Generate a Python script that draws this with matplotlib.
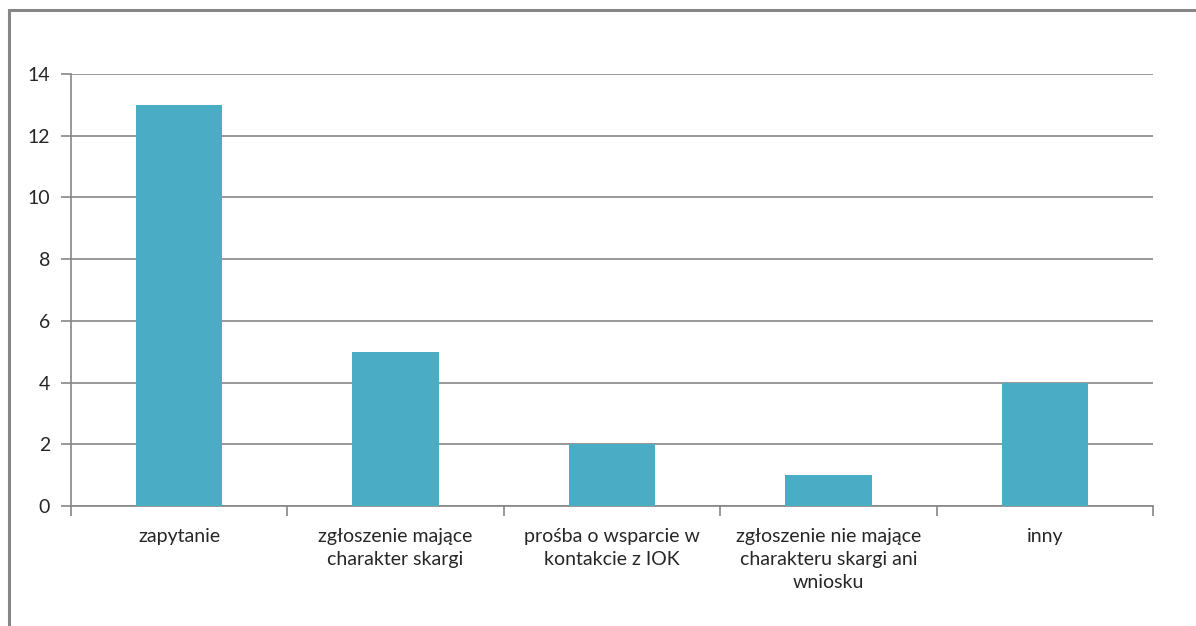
import matplotlib
matplotlib.use('Agg')
import matplotlib.pyplot as plt
from matplotlib.patches import Rectangle
import numpy as np

categories = ['zapytanie',
              'zgłoszenie mające\ncharakter skargi',
              'prośba o wsparcie w\nkontakcie z IOK',
              'zgłoszenie nie mające\ncharakteru skargi ani\nwniosku',
              'inny']
values = [13, 5, 2, 1, 4]
y_ticks = [0, 2, 4, 6, 8, 10, 12, 14]

bar_color = '#4BACC6'
grid_color = '#868686'
text_color = '#262626'

plt.rcParams['font.family'] = ['Lato', 'DejaVu Sans']

W, H = 1196, 626
fig = plt.figure(figsize=(W / 100, H / 100), dpi=100)
ax = fig.add_axes([71 / W, 1 - 506 / H, (1153 - 71) / W, (506 - 74) / H])

x = np.arange(len(categories))
ax.bar(x, values, width=0.4, color=bar_color, zorder=3)

ax.set_xlim(-0.5, len(categories) - 0.5)
ax.set_ylim(0, 14)
ax.set_yticks(y_ticks)
ax.set_yticklabels([str(v) for v in y_ticks])
ax.yaxis.grid(True, color=grid_color, linewidth=1.2, zorder=0)

# category labels centred, ticks on the boundaries
ax.set_xticks(x)
ax.set_xticklabels(categories, fontsize=14, color=text_color, linespacing=1.42)
ax.set_xticks(np.arange(len(categories) + 1) - 0.5, minor=True)
ax.tick_params(axis='x', which='major', length=0, pad=16)
ax.tick_params(axis='x', which='minor', length=7, color=grid_color, width=1.2)
ax.tick_params(axis='y', length=7, color=grid_color, width=1.2, pad=8,
               labelsize=14, labelcolor=text_color)

for side in ['top', 'right']:
    ax.spines[side].set_visible(False)
for side in ['left', 'bottom']:
    ax.spines[side].set_color(grid_color)
    ax.spines[side].set_linewidth(1.2)

# chart area border, cut off at right and bottom like the screenshot
fig.patches.append(Rectangle((9 / W, -0.1), 1.2, 1.1 - 10 / H,
                             transform=fig.transFigure, fill=False,
                             edgecolor=grid_color, linewidth=2.2))

fig.savefig('out.png', dpi=100)
